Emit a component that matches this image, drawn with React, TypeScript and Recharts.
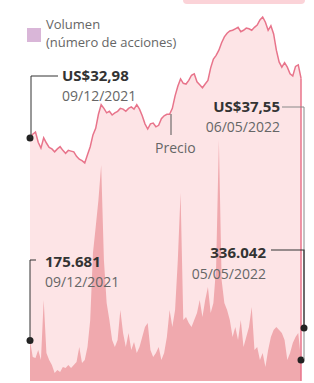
import { ComposedChart, Area, XAxis, YAxis, ReferenceDot, ReferenceLine } from "recharts";

// precio de cierre diario (US$), 09/12/2021 -> 06/05/2022
const price = [
  32.98, 33.5, 33.8, 32.4, 31.6, 33.0, 32.3, 31.7, 31.5, 31.1,
  31.5, 31.8, 31.3, 30.9, 31.3, 31.2, 31.1, 30.5, 30.1, 29.9,
  29.6, 30.7, 31.8, 33.4, 34.3, 36.2, 37.5, 37.0, 36.4, 36.6,
  36.1, 36.4, 36.6, 37.0, 36.9, 36.6, 37.0, 37.2, 36.9, 37.5,
  36.9, 36.0, 34.9, 34.2, 34.9, 35.0, 34.5, 34.7, 35.6, 36.0,
  36.2, 36.2, 37.0, 38.7, 40.0, 41.0, 40.4, 40.3, 40.8, 41.5,
  41.7, 40.6, 40.2, 39.8, 40.3, 40.8, 42.5, 43.7, 44.2, 44.9,
  45.9, 46.7, 47.2, 47.5, 47.6, 47.8, 48.0, 47.4, 47.6, 47.9,
  47.8, 47.6, 48.0, 48.3, 49.0, 49.4, 48.7, 47.6, 48.2, 47.1,
  44.9, 43.3, 42.6, 43.2, 42.6, 41.7, 41.4, 42.7, 42.9, 41.1,
];

// volumen (número de acciones)
const volume = [
  175681, 104000, 100000, 135000, 91000, 352000, 122000, 91000, 70000, 35000,
  48000, 39000, 61000, 56000, 70000, 56000, 70000, 83000, 148000, 78000,
  91000, 148000, 265000, 556000, 669000, 786000, 938000, 525000, 339000, 265000,
  178000, 148000, 178000, 308000, 208000, 148000, 208000, 135000, 169000, 122000,
  148000, 191000, 235000, 252000, 135000, 104000, 122000, 148000, 91000, 122000,
  191000, 308000, 235000, 308000, 525000, 816000, 265000, 278000, 252000, 235000,
  265000, 295000, 352000, 278000, 352000, 408000, 295000, 339000, 495000, 1047000,
  439000, 339000, 308000, 265000, 191000, 235000, 178000, 265000, 148000, 191000,
  235000, 321000, 135000, 148000, 91000, 122000, 61000, 135000, 191000, 221000,
  235000, 221000, 208000, 178000, 91000, 122000, 165000, 191000, 208000, 91000,
];

const data = price.map((p, i) => ({ i, price: p, volume: volume[i] }));
const last = price.length - 1;

const LINE = "#e8748b";
const FONT = "'Open Sans', sans-serif";

export default function App() {
  return (
    <div
      style={{
        position: "absolute",
        left: 0,
        top: 0,
        width: 314,
        height: 383,
        background: "#fff",
        fontFamily: FONT,
      }}
    >
      <ComposedChart
        width={314}
        height={383}
        data={data}
        margin={{ top: 12.6, right: 13, left: 30, bottom: 2 }}
      >
        <XAxis dataKey="i" type="number" domain={[0, last]} hide />
        <YAxis yAxisId="price" domain={[0, 50]} hide />
        <YAxis yAxisId="vol" domain={[0, 1600000]} hide />

        <Area
          yAxisId="price"
          dataKey="price"
          type="linear"
          fill="#fde4e6"
          fillOpacity={1}
          stroke={LINE}
          strokeWidth={1.5}
          isAnimationActive={false}
        />
        <Area
          yAxisId="vol"
          dataKey="volume"
          type="linear"
          fill="#f0a9ae"
          fillOpacity={1}
          stroke="none"
          isAnimationActive={false}
        />

        <ReferenceLine
          yAxisId="price"
          segment={[
            { x: last, y: price[last] },
            { x: last, y: 0 },
          ]}
          stroke={LINE}
          strokeWidth={1.5}
        />

        <ReferenceDot yAxisId="price" x={0} y={price[0]} r={3.5} fill="#222" stroke="none" />
        <ReferenceDot yAxisId="vol" x={0} y={volume[0]} r={3.5} fill="#222" stroke="none" />
        <ReferenceDot yAxisId="vol" x={last} y={volume[last]} r={3.5} fill="#222" stroke="none" />
      </ComposedChart>

      {/* anotaciones */}
      <svg
        width={314}
        height={383}
        style={{ position: "absolute", left: 0, top: 0, pointerEvents: "none" }}
      >
        <rect x={183} y={-10} width={122} height={14} rx={4} fill="#fbd3d8" />

        <rect x={27} y={28} width={14} height={14} fill="#d9b6d8" />
        <text x={46} y={28.5} fontSize={13} fill="#666">Volumen</text>
        <text x={46} y={46.5} fontSize={13} fill="#666">(número de acciones)</text>

        {/* precio inicial */}
        <polyline points="58,76 31,76 31,138" fill="none" stroke="#333" strokeWidth={1} />
        <text x={62} y={81} fontSize={15} fontWeight={700} fill="#333">US$32,98</text>
        <text x={62} y={101} fontSize={14} fill="#666">09/12/2021</text>

        {/* precio final */}
        <polyline points="282,107 304,107 304,359" fill="none" stroke="#888" strokeWidth={1} />
        <text x={280} y={112} fontSize={15} fontWeight={700} fill="#333" textAnchor="end">US$37,55</text>
        <text x={280} y={132} fontSize={14} fill="#666" textAnchor="end">06/05/2022</text>

        <line x1={171} y1={114} x2={171} y2={135} stroke="#555" strokeWidth={1} />
        <text x={155} y={153} fontSize={14} fill="#666">Precio</text>

        {/* volumen inicial */}
        <polyline points="36,260 30,260 30,341" fill="none" stroke="#333" strokeWidth={1} />
        <text x={45} y={267} fontSize={15} fontWeight={700} fill="#333">175.681</text>
        <text x={45} y={287} fontSize={14} fill="#666">09/12/2021</text>

        {/* volumen final */}
        <polyline points="271,250 304,250 304,328" fill="none" stroke="#333" strokeWidth={1.2} />
        <circle cx={304} cy={328} r={3.5} fill="#222" />
        <text x={266} y={258} fontSize={15} fontWeight={700} fill="#333" textAnchor="end">336.042</text>
        <text x={266} y={279} fontSize={14} fill="#666" textAnchor="end">05/05/2022</text>
      </svg>
    </div>
  );
}
